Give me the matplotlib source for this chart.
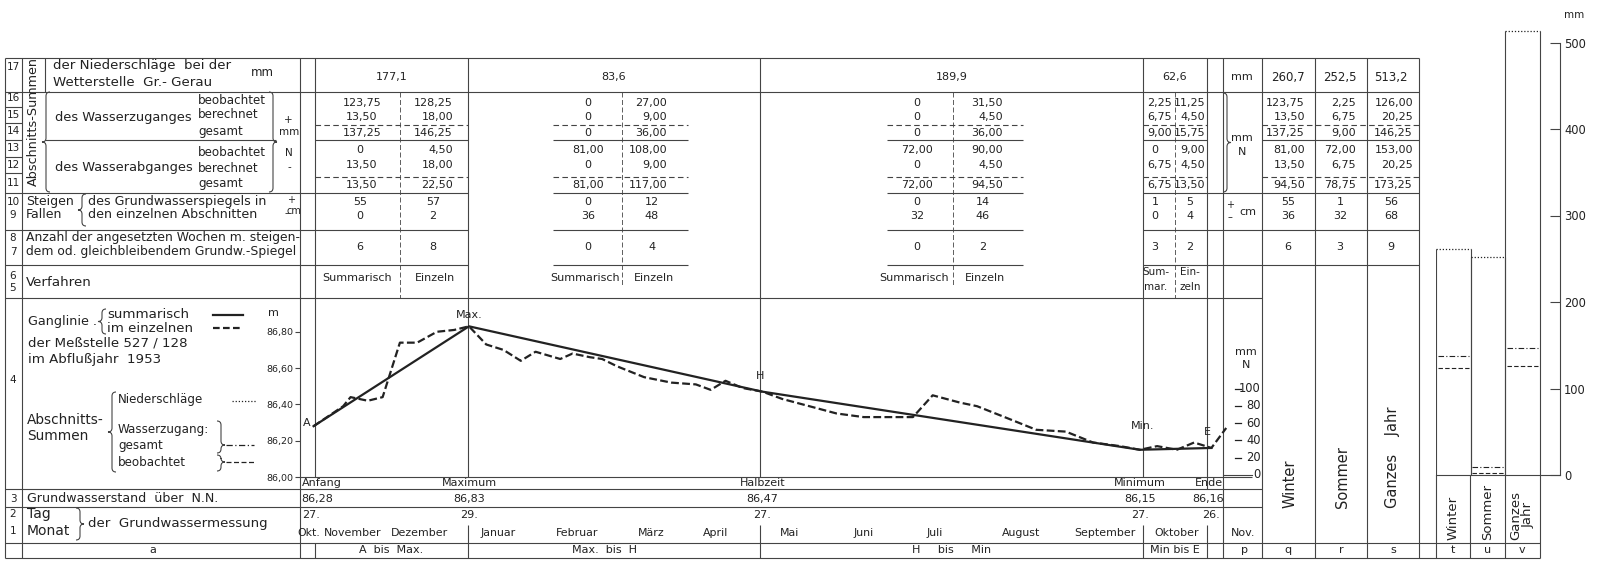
import numpy as np
import pandas as pd
import matplotlib
matplotlib.use('Agg')
import matplotlib.pyplot as plt
from matplotlib.path import Path
from matplotlib.patches import PathPatch
from matplotlib.transforms import blended_transform_factory

W, H = 1597, 564
INK = '#222222'
RULE = '#444444'
plt.rcParams['font.family'] = ['DejaVu Sans']

# Ganglinie der Meßstelle 527/128, Abflußjahr 1953
start = pd.Timestamp('1952-10-27')
haupt_namen = ['A', 'Max.', 'H', 'Min.', 'E']
haupt_text = ['Anfang', 'Maximum', 'Halbzeit', 'Minimum', 'Ende']
haupt_datum = ['1952-10-27', '1952-12-29', '1953-04-27', '1953-09-27', '1953-10-26']
haupt_stand = [86.28, 86.83, 86.47, 86.15, 86.16]

einzel_datum = ['1952-10-27', '1952-11-08', '1952-11-11', '1952-11-18', '1952-11-24',
                '1952-12-01', '1952-12-08', '1952-12-16', '1952-12-23', '1952-12-29',
                '1953-01-05', '1953-01-12', '1953-01-19', '1953-01-25', '1953-02-04',
                '1953-02-09', '1953-02-16', '1953-02-21', '1953-02-27', '1953-03-10',
                '1953-03-21', '1953-03-31', '1953-04-06', '1953-04-12', '1953-04-19',
                '1953-04-27', '1953-05-05', '1953-05-16', '1953-05-27', '1953-06-07',
                '1953-06-18', '1953-06-27', '1953-07-05', '1953-07-16', '1953-07-23',
                '1953-08-05', '1953-08-16', '1953-08-28', '1953-09-08', '1953-09-19',
                '1953-09-27', '1953-10-04', '1953-10-12', '1953-10-19', '1953-10-26',
                '1953-11-01']
einzel_stand = [86.28, 86.39, 86.44, 86.42, 86.44,
                86.74, 86.74, 86.80, 86.81, 86.83,
                86.73, 86.70, 86.64, 86.69, 86.65,
                86.68, 86.66, 86.65, 86.61, 86.55,
                86.52, 86.51, 86.48, 86.53, 86.49,
                86.47, 86.43, 86.39, 86.35, 86.33,
                86.33, 86.33, 86.45, 86.41, 86.39,
                86.32, 86.26, 86.25, 86.19, 86.17,
                86.15, 86.17, 86.15, 86.19, 86.16,
                86.27]

monate = ['Okt.', 'November', 'Dezember', 'Januar', 'Februar', 'März', 'April',
          'Mai', 'Juni', 'Juli', 'August', 'September', 'Oktober']
monat_pos = ['1952-10-25', '1952-11-12', '1952-12-09', '1953-01-10', '1953-02-11',
             '1953-03-13', '1953-04-08', '1953-05-08', '1953-06-07', '1953-07-06',
             '1953-08-10', '1953-09-13', '1953-10-12']

# Abschnitts-Summen: A-Max, Max-H, H-Min, Min-E  (summarisch / einzeln)
abschnitte = ['A  bis  Max.', 'Max.  bis  H', 'H     bis     Min', 'Min bis E']
niederschlag = [177.1, 83.6, 189.9, 62.6]
zu_beob_s, zu_beob_e = [123.75, 0, 0, 2.25], [128.25, 27.00, 31.50, 11.25]
zu_ber_s, zu_ber_e = [13.50, 0, 0, 6.75], [18.00, 9.00, 4.50, 4.50]
zu_ges_s, zu_ges_e = [137.25, 0, 0, 9.00], [146.25, 36.00, 36.00, 15.75]
ab_beob_s, ab_beob_e = [0, 81.00, 72.00, 0], [4.50, 108.00, 90.00, 9.00]
ab_ber_s, ab_ber_e = [13.50, 0, 0, 6.75], [18.00, 9.00, 4.50, 4.50]
ab_ges_s, ab_ges_e = [13.50, 81.00, 72.00, 6.75], [22.50, 117.00, 94.50, 13.50]
steigen_s, steigen_e = [55, 0, 0, 1], [57, 12, 14, 5]
fallen_s, fallen_e = [0, 36, 32, 0], [2, 48, 46, 4]
wochen_s, wochen_e = [6, 0, 0, 3], [8, 4, 2, 2]

# Winter, Sommer, Ganzes Jahr
jahreszeiten = ['Winter', 'Sommer', 'Ganzes    Jahr']
jz_kurz = ['Winter', 'Sommer', 'Ganzes\nJahr']
nied_jz = [260.7, 252.5, 513.2]
zu_beob_jz = [123.75, 2.25, 126.00]
zu_ber_jz = [13.50, 6.75, 20.25]
zu_ges_jz = [137.25, 9.00, 146.25]
ab_beob_jz = [81.00, 72.00, 153.00]
ab_ber_jz = [13.50, 6.75, 20.25]
ab_ges_jz = [94.50, 78.75, 173.25]
steigen_jz = [55, 1, 56]
fallen_jz = [36, 32, 68]
wochen_jz = [6, 3, 9]
spalten = ['a', 'p', 'q', 'r', 's', 't', 'u', 'v']


def f2(v):
    return '0' if v == 0 else f'{v:.2f}'.replace('.', ',')


def f1(v):
    return f'{v:.1f}'.replace('.', ',')


fig = plt.figure(figsize=(W / 100, H / 100), dpi=100)
bg = fig.add_axes([0, 0, 1, 1])
bg.set_xlim(0, W)
bg.set_ylim(H, 0)
bg.axis('off')


def px_axes(x0, y0, x1, y1):
    return fig.add_axes([x0 / W, 1 - y1 / H, (x1 - x0) / W, (y1 - y0) / H])


def hl(y, x0, x1, ls='-', lw=0.8):
    bg.plot([x0, x1], [y, y], color=RULE, lw=lw, ls=ls, solid_capstyle='butt')


def vl(x, y0, y1, ls='-', lw=0.8):
    bg.plot([x, x], [y0, y1], color=RULE, lw=lw, ls=ls, solid_capstyle='butt')


def tx(x, y, s, ha='left', size=8.6, **kw):
    bg.text(x, y, s, ha=ha, va='center', fontsize=size, color=INK, **kw)


def brace(x, y0, y1, opening=True, tip=None, w=4):
    ym = (y0 + y1) / 2 if tip is None else tip
    w = min(w, (y1 - y0) / 4)
    d = -w if opening else w
    e = -d
    verts = [(x + e, y0), (x, y0), (x, y0 + w), (x, ym - w), (x, ym), (x + d, ym),
             (x, ym), (x, ym + w), (x, y1 - w), (x, y1), (x + e, y1)]
    codes = [Path.MOVETO, Path.CURVE3, Path.CURVE3, Path.LINETO, Path.CURVE3, Path.CURVE3,
             Path.CURVE3, Path.CURVE3, Path.LINETO, Path.CURVE3, Path.CURVE3]
    bg.add_patch(PathPatch(Path(verts, codes), fill=False, lw=0.8, ec=RULE))


# ---------- Tabellengerüst ----------
hl(58, 5, 1419)
hl(92, 5, 1419)
hl(298, 5, 1262)
for y in (193, 230, 265):
    for a, b in ((5, 468), (553, 688), (887, 1023), (1143, 1419)):
        hl(y, a, b)
for a, b in ((315, 468), (553, 688), (887, 1023), (1143, 1207), (1262, 1419)):
    hl(125, a, b, ls=(0, (5, 3)))
    hl(140, a, b)
    hl(177, a, b, ls=(0, (5, 3)))
hl(140, 45, 276)
for y in (107, 123, 157, 173):
    hl(y, 5, 22)
hl(140, 5, 22)
hl(477, 300, 1252)
hl(489, 5, 1262)
hl(507, 5, 1262)
hl(543, 5, 1540)
hl(558, 5, 1540)

for x in (5, 22, 300, 1223, 1262, 1315, 1367, 1419):
    vl(x, 58, 558)
vl(45, 58, 92)
vl(315, 58, 477)
vl(315, 543, 558)
for x in (468, 760, 1143):
    vl(x, 58, 477)
    vl(x, 525, 558)
vl(1207, 58, 489)
vl(1207, 525, 558)
for x in (1436, 1470, 1505, 1540):
    vl(x, 475, 558)

# Spaltenteiler summarisch | einzeln
for x, y1 in ((400, 298), (622, 285), (953, 285), (1175, 298)):
    vl(x, 92, y1, ls=(0, (6, 3)), lw=0.6)

# ---------- Vorspalte ----------
for s, y in (('17', 67), ('16', 98), ('15', 115), ('14', 131), ('13', 148), ('12', 165),
             ('11', 183), ('10', 202), ('9', 215), ('8', 238), ('7', 252), ('6', 276),
             ('5', 288), ('4', 380), ('3', 499), ('2', 514), ('1', 531)):
    tx(13, y, s, 'center', 7.5)
bg.text(33, 122, 'Abschnitts-Summen', rotation=90, ha='center', va='center',
        fontsize=9.2, color=INK)
brace(46, 92, 192, opening=True)
brace(273, 92, 192, opening=False)
tx(53, 65, 'der Niederschläge  bei der', size=9.6)
tx(53, 82, 'Wetterstelle  Gr.- Gerau', size=9.6)
tx(262, 72, 'mm', 'center')
tx(55, 117, 'des Wasserzuganges', size=9.4)
tx(55, 168, 'des Wasserabganges', size=9.4)
for y0 in (100, 153):
    tx(198, y0, 'beobachtet')
    tx(198, y0 + 15, 'berechnet')
    tx(198, y0 + 31, 'gesamt')
tx(288, 120, '+', 'center', 7.5)
tx(289, 132, 'mm', 'center', 7.5)
tx(289, 153, 'N', 'center', 7.5)
tx(289, 167, '-', 'center', 7.5)
tx(26, 202, 'Steigen', size=9)
tx(26, 215, 'Fallen', size=9)
brace(82, 194, 226, opening=True)
tx(88, 202, 'des Grundwasserspiegels in', size=9.1)
tx(88, 215, 'den einzelnen Abschnitten', size=9.1)
tx(291, 200, '+', 'center', 7)
tx(287, 213, '–', 'center', 7)
tx(294, 211, 'cm', 'center', 7)
tx(26, 238, 'Anzahl der angesetzten Wochen m. steigen-', size=8.9)
tx(26, 252, 'dem od. gleichbleibendem Grundw.-Spiegel', size=8.9)
tx(26, 282, 'Verfahren', size=9.6)

tx(28, 321, 'Ganglinie .', size=9.2)
brace(102, 309, 334, opening=True)
tx(107, 315, 'summarisch', size=9.6)
tx(107, 328, 'im einzelnen', size=9.6)
bg.plot([213, 243], [315, 315], color=INK, lw=1.6)
bg.plot([213, 243], [328, 328], color=INK, lw=1.6, ls=(0, (3, 1.5)))
tx(273, 313, 'm', 'center', 8)
tx(28, 343, 'der Meßstelle 527 / 128', size=9.6)
tx(28, 360, 'im Abflußjahr  1953', size=9.6)
tx(27, 420, 'Abschnitts-', size=9.8)
tx(27, 436, 'Summen', size=9.8)
brace(112, 392, 472, opening=True)
tx(118, 400, 'Niederschläge')
bg.plot([232, 256], [401, 401], color=INK, lw=0.9, ls=(0, (1, 1.5)))
tx(118, 430, 'Wasserzugang:')
tx(118, 446, 'gesamt')
tx(118, 462, 'beobachtet')
brace(221, 421, 453, opening=False, tip=445)
brace(221, 455, 471, opening=False, tip=462)
bg.plot([226, 254], [445, 445], color=INK, lw=0.9, ls=(0, (5, 2, 1, 2)))
bg.plot([226, 254], [462, 462], color=INK, lw=0.9, ls=(0, (4, 2)))
tx(27, 499, 'Grundwasserstand  über  N.N.', size=9.1)
tx(27, 514, 'Tag', size=10)
tx(27, 531, 'Monat', size=10)
brace(80, 508, 540, opening=False)
tx(88, 523, 'der  Grundwassermessung', size=9.6)

# ---------- Abschnittswerte ----------
sek = [(315, 468), (468, 760), (760, 1143), (1143, 1207)]
lay = [dict(l=362, lha='center', r=453, li=360, ri=433),
       dict(l=588, lha='center', r=667, li=588, ri=652),
       dict(l=917, lha='center', r=1003, li=917, ri=983),
       dict(l=1172, lha='right', r=1205, li=1155, ri=1190)]
dez_zeilen = [(103, zu_beob_s, zu_beob_e), (117, zu_ber_s, zu_ber_e),
              (133, zu_ges_s, zu_ges_e), (150, ab_beob_s, ab_beob_e),
              (165, ab_ber_s, ab_ber_e), (185, ab_ges_s, ab_ges_e)]
int_zeilen = [(202, steigen_s, steigen_e), (216, fallen_s, fallen_e),
              (247, wochen_s, wochen_e)]
for i, ((a, b), L) in enumerate(zip(sek, lay)):
    tx((a + b) / 2, 77, f1(niederschlag[i]), 'center', 8)
    for y, vs, ve in dez_zeilen:
        if vs[i] == 0:
            tx(L['li'], y, '0', 'center', 8)
        else:
            tx(L['l'], y, f2(vs[i]), L['lha'], 8)
        tx(L['r'], y, f2(ve[i]), 'right', 8)
    for y, vs, ve in int_zeilen:
        tx(L['li'], y, str(vs[i]), 'center', 8)
        tx(L['ri'], y, str(ve[i]), 'center', 8)
    if i < 3:
        tx(L['li'] - 3, 278, 'Summarisch', 'center', 8)
        tx(L['ri'] + 2, 278, 'Einzeln', 'center', 8)
    else:
        tx(1156, 272, 'Sum-', 'center', 7.5)
        tx(1156, 287, 'mar.', 'center', 7.5)
        tx(1190, 272, 'Ein-', 'center', 7.5)
        tx(1190, 287, 'zeln', 'center', 7.5)

# Jahreszeiten-Spalten q, r, s
tx(1242, 77, 'mm', 'center', 8)
brace(1227, 93, 192, opening=False)
tx(1242, 138, 'mm', 'center', 8)
tx(1242, 152, 'N', 'center', 8)
tx(1230, 205, '+', 'center', 7)
tx(1230, 217, '–', 'center', 7)
tx(1248, 212, 'cm', 'center', 8)
mitte_jz = [1288, 1340, 1391]
rechts_jz = [1305, 1356, 1413]
for j in range(3):
    tx(mitte_jz[j], 77, f1(nied_jz[j]), 'center', 8.5)
    for y, vals in ((103, zu_beob_jz), (117, zu_ber_jz), (133, zu_ges_jz),
                    (150, ab_beob_jz), (165, ab_ber_jz), (185, ab_ges_jz)):
        tx(rechts_jz[j], y, f2(vals[j]), 'right', 8)
    for y, vals in ((202, steigen_jz), (216, fallen_jz), (247, wochen_jz)):
        tx(mitte_jz[j], y, str(vals[j]), 'center', 8)
    bg.text(mitte_jz[j] + 2, 508, jahreszeiten[j], rotation=90, ha='center', va='bottom',
            fontsize=10.5, color=INK)

# ---------- Ganglinie ----------
ch = px_axes(300, 298, 1223, 477)
ch.patch.set_alpha(0)
ch.set_xlim(-5.5, 368.7)
ch.set_ylim(86.0, 86.986)
for sp in ch.spines.values():
    sp.set_visible(False)
ch.set_xticks([])
ch.set_yticks([86.0, 86.2, 86.4, 86.6, 86.8])
ch.set_yticklabels([f'{v:.2f}'.replace('.', ',') for v in ch.get_yticks()])
ch.tick_params(axis='y', length=3.5, width=0.8, color=RULE, labelsize=6.8,
               labelcolor=INK, pad=1)

haupt_tage = (pd.to_datetime(haupt_datum) - start).days.values
einzel_tage = (pd.to_datetime(einzel_datum) - start).days.values
ch.plot(haupt_tage, haupt_stand, color=INK, lw=1.6)
ch.plot(einzel_tage, einzel_stand, color=INK, lw=1.6, ls=(0, (3.5, 1.5)), clip_on=False)

offs = [(-2, 2), (0, 8), (-2, 11), (2, 17), (-3, 11.5)]
has = ['right', 'center', 'center', 'center', 'center']
for n, d, v, o, h in zip(haupt_namen, haupt_tage, haupt_stand, offs, has):
    ch.annotate(n, (d, v), xytext=o, textcoords='offset points', ha=h, va='center',
                fontsize=8, color=INK)


def xpx(tag):
    return ch.transData.transform((tag, 86.0))[0]


align = ['left', 'center', 'center', 'center', 'right']
dx = [-12, 0, 0, 0, 12]
for k in range(5):
    x = xpx(haupt_tage[k]) + dx[k]
    tx(x, 483, haupt_text[k], align[k], 8)
    tx(x, 499, f'{haupt_stand[k]:.2f}'.replace('.', ','), align[k], 8)
    d = pd.Timestamp(haupt_datum[k])
    tx(xpx(haupt_tage[k]) + (-3 if k == 0 else 0), 515, f'{d.day}.', 'center', 8)

monat_tage = (pd.to_datetime(monat_pos) - start).days.values
for m, t in zip(monate, monat_tage):
    tx(xpx(t), 533, m, 'center', 7.9)
tx(1243, 533, 'Nov.', 'center', 8)

for s, (a, b) in zip(abschnitte, sek):
    tx((a + b) / 2 - (10 if b == 760 else 0), 550, s, 'center', 8)

# ---------- Säulen der Abschnitts-Summen ----------
bx = px_axes(1436, 475 - 520 * 0.865, 1560, 475)
bx.patch.set_alpha(0)
bx.set_xlim(-0.5, 3.08)
bx.set_ylim(0, 520)
pos = np.arange(3)
bx.bar(pos, nied_jz, width=1, fill=False, edgecolor='none')
bx.vlines(pos - 0.5, 0, nied_jz, color=RULE, lw=0.8)
bx.vlines(pos + 0.5, 0, nied_jz, color=RULE, lw=0.8)
bx.hlines(nied_jz, pos - 0.5, pos + 0.5, color=INK, lw=0.9, linestyles=[(0, (1, 1.5))])
bx.hlines(zu_ges_jz, pos - 0.45, pos + 0.45, color=INK, lw=0.8,
          linestyles=[(0, (5, 2, 1, 2))])
bx.hlines(zu_beob_jz, pos - 0.45, pos + 0.45, color=INK, lw=0.8, linestyles=[(0, (4, 2))])
for sp in ('left', 'top'):
    bx.spines[sp].set_visible(False)
bx.spines['right'].set_bounds(0, 500)
bx.spines['right'].set_color(RULE)
bx.spines['bottom'].set_color(RULE)
bx.spines['right'].set_linewidth(0.8)
bx.spines['bottom'].set_linewidth(0.8)
bx.set_xticks([])
bx.yaxis.tick_right()
bx.set_yticks(range(0, 600, 100))
bx.tick_params(axis='y', direction='in', length=7, width=0.8, color=RULE, labelsize=8.3,
               labelcolor=INK, pad=3)
tx(1574, 15, 'mm', 'center', 7.5)

for j in range(3):
    bg.text([1453, 1488, 1522][j], 540, jz_kurz[j], rotation=90, ha='center', va='bottom',
            fontsize=9.5, color=INK, linespacing=0.95)

# mm-Maßstab in Spalte p
tr = blended_transform_factory(bg.transData, bx.transData)
tx(1246, 352, 'mm', 'center', 8)
tx(1246, 365, 'N', 'center', 8)
for v in (20, 40, 60, 80, 100):
    bg.plot([1235, 1241], [v, v], color=INK, lw=0.9, transform=tr)
    bg.text(1261, v, str(v), transform=tr, ha='right', va='center', fontsize=8.3, color=INK)
bg.plot([1223, 1252], [0, 0], color=RULE, lw=0.8, transform=tr)
bg.text(1261, 0, '0', transform=tr, ha='right', va='center', fontsize=8.3, color=INK)

# Spaltenbuchstaben
for s, x in zip(spalten, [153, 1245, 1288, 1341, 1393, 1453, 1488, 1522]):
    tx(x, 550, s, 'center', 8)

fig.savefig('out.png', dpi=100, facecolor='white')
